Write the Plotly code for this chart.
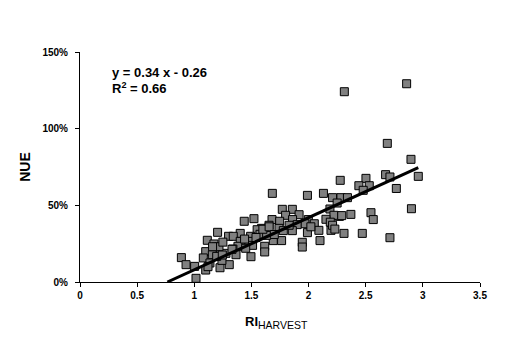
import plotly.graph_objects as go

ri_harvest = [2.858, 2.313, 2.689, 2.896, 2.674, 2.712, 2.96, 2.768, 2.502, 2.44,
              2.531, 2.478, 2.277, 1.99, 2.13, 1.683, 2.21, 2.283, 2.34, 2.25,
              2.187, 2.9, 2.546, 2.37, 2.566, 2.27, 2.222, 2.29, 2.152, 2.19,
              1.77, 1.858, 1.917, 1.799, 1.86, 1.998, 1.68, 1.747, 1.968, 2.05,
              1.9, 1.522, 1.437, 1.654, 1.589, 1.741, 1.55, 1.615, 1.779, 1.858,
              2.09, 2.196, 2.21, 1.99, 2.31, 2.47, 2.712, 2.1, 1.945, 1.945,
              1.691, 1.764, 1.616, 1.616, 1.496, 1.204, 1.114, 1.402, 1.3, 1.341,
              1.493, 1.478, 1.51, 1.402, 1.382, 1.172, 1.19, 1.1, 1.338, 1.365,
              1.277, 1.158, 1.079, 0.887, 0.928, 1.003, 1.1, 1.225, 1.306, 1.242,
              1.137, 1.196, 1.015, 1.575, 1.633, 1.216, 1.245, 1.16, 1.6, 1.655,
              1.33, 1.44, 1.54, 1.83, 2.02, 1.12, 1.25, 1.45, 2.23, 1.7]
nue_pct = [129.3, 124.1, 90.4, 80.0, 70.0, 68.5, 68.9, 61.0, 67.6, 62.8,
           62.8, 59.8, 66.3, 56.5, 57.8, 57.8, 55.0, 55.0, 55.0, 51.5,
           47.6, 47.8, 45.2, 44.1, 40.7, 42.8, 43.5, 43.3, 40.9, 39.0,
           47.4, 47.4, 43.9, 43.5, 40.7, 40.7, 40.7, 39.6, 38.0, 38.0,
           37.4, 41.3, 39.6, 37.0, 35.0, 35.0, 34.1, 33.5, 33.5, 33.5,
           33.7, 33.7, 37.0, 32.2, 31.7, 31.7, 28.9, 27.0, 25.9, 22.8,
           27.0, 27.0, 23.3, 19.6, 16.5, 32.4, 27.2, 31.7, 29.8, 29.8,
           29.8, 26.5, 23.9, 26.5, 23.3, 24.8, 22.8, 19.8, 21.5, 17.8,
           18.7, 17.8, 15.7, 15.9, 11.3, 10.2, 7.8, 9.3, 11.3, 14.1,
           12.4, 16.7, 2.4, 31.1, 30.4, 23.0, 17.6, 23.0, 34.4, 36.0,
           21.3, 28.0, 29.0, 37.0, 36.0, 10.0, 26.0, 22.0, 34.5, 31.0]

slope = 0.34
intercept = -0.26
r2 = 0.66
x_ticks = [0, 0.5, 1, 1.5, 2, 2.5, 3, 3.5]
x_tick_labels = ["0", "0.5", "1", "1.5", "2", "2.5", "3", "3.5"]
y_ticks = [0, 50, 100, 150]
y_tick_labels = ["0%", "50%", "100%", "150%"]

x0 = -intercept / slope
x1 = max(ri_harvest)
line_x = [x0, x1]
line_y = [100 * (slope * v + intercept) for v in line_x]

FONT = "Arial, Liberation Sans, sans-serif"

fig = go.Figure()
fig.add_trace(go.Scatter(
    x=ri_harvest, y=nue_pct, mode="markers",
    marker=dict(symbol="square", size=8, color="#808080",
                line=dict(color="black", width=1)),
    showlegend=False, cliponaxis=False))
fig.add_trace(go.Scatter(
    x=line_x, y=line_y, mode="lines",
    line=dict(color="black", width=3), showlegend=False))

fig.add_annotation(xref="paper", yref="paper", x=0.075, y=0.913,
                   xanchor="left", yanchor="middle", showarrow=False,
                   text=f"<b>y = {slope:.2f} x - {abs(intercept):.2f}</b>",
                   font=dict(family=FONT, size=13, color="black"))
fig.add_annotation(xref="paper", yref="paper", x=0.075, y=0.845,
                   xanchor="left", yanchor="middle", showarrow=False,
                   text=f"<b>R<sup>2</sup> = {r2:.2f}</b>",
                   font=dict(family=FONT, size=13, color="black"))

# x-axis title as annotation (RI with HARVEST subscript)
fig.add_annotation(xref="paper", yref="paper", x=0.4075, y=-0.174,
                   xanchor="left", yanchor="middle", showarrow=False,
                   text="<b><span style='font-size:13px'>RI</span></b><sub>HARVEST</sub>",
                   font=dict(family=FONT, size=15, color="black"))

fig.update_layout(
    width=520, height=352,
    margin=dict(l=80, r=40, t=52, b=70),
    paper_bgcolor="white", plot_bgcolor="white",
    font=dict(family=FONT, color="black"),
    xaxis=dict(range=[0, 3.5], tickvals=x_ticks, ticktext=x_tick_labels,
               showgrid=False, zeroline=False, showline=True,
               linecolor="black", linewidth=1, ticks="outside", ticklen=4,
               tickcolor="black", tickfont=dict(size=10, family=FONT, weight="bold")),
    yaxis=dict(range=[0, 150], tickvals=y_ticks, ticktext=y_tick_labels,
               showgrid=False, zeroline=False, showline=True,
               linecolor="black", linewidth=1, ticks="outside", ticklen=4,
               tickcolor="black", tickfont=dict(size=10, family=FONT, weight="bold"),
               ticklabelstandoff=5,
               title=dict(text="<b>NUE</b>", font=dict(size=14, family=FONT),
                          standoff=8)),
)

fig.write_html("out.html")
